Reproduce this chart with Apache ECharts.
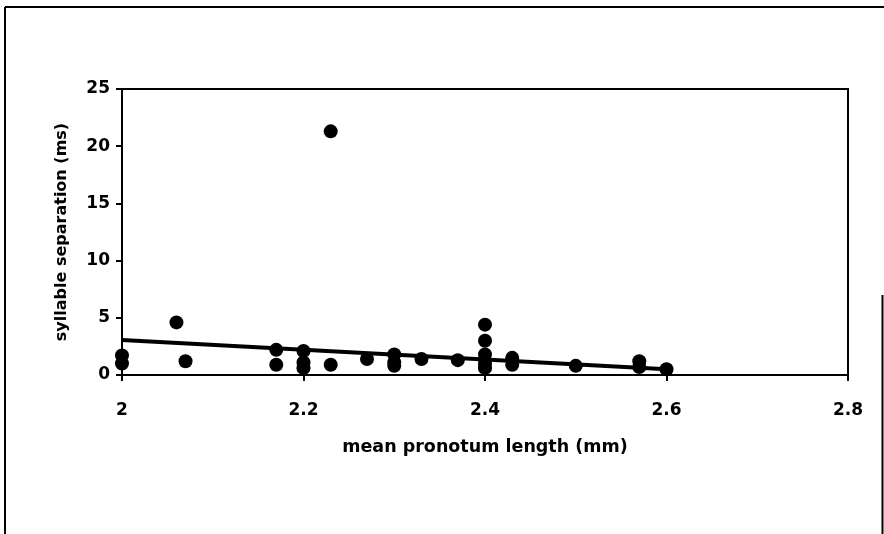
<!DOCTYPE html>
<html>
<head>
<meta charset="utf-8">
<script src="https://cdn.jsdelivr.net/npm/echarts@6/dist/echarts.min.js"></script>
<style>html,body{margin:0;padding:0;background:#fff;}#c{width:884px;height:534px;}</style>
</head>
<body>
<div id="c"></div>
<script>
// pronotum length (mm)
var pronotumLength = [2.00, 2.00, 2.06, 2.07, 2.17, 2.17, 2.20, 2.20, 2.20, 2.23, 2.23, 2.27, 2.30, 2.30, 2.30, 2.33, 2.37, 2.40, 2.40, 2.40, 2.40, 2.40, 2.43, 2.43, 2.50, 2.57, 2.57, 2.60];
// syllable separation (ms)
var syllableSeparation = [1.7, 1.0, 4.6, 1.2, 2.2, 0.9, 2.1, 1.1, 0.6, 21.3, 0.9, 1.4, 1.8, 1.1, 0.8, 1.4, 1.3, 4.4, 3.0, 1.8, 1.0, 0.6, 1.5, 0.9, 0.8, 1.2, 0.7, 0.5];
// trend line endpoints
var trendX = [2.0, 2.6];
var trendY = [3.05, 0.5];
var xTicks = {min: 2, max: 2.8, interval: 0.2};
var yTicks = {min: 0, max: 25, interval: 5};

var points = pronotumLength.map(function (x, i) { return [x, syllableSeparation[i]]; });
var trend = trendX.map(function (x, i) { return [x, trendY[i]]; });

var font = 'DejaVu Sans, Liberation Sans, Arial, sans-serif';
var chart = echarts.init(document.getElementById('c'));
chart.setOption({
  animation: false,
  backgroundColor: '#fff',
  grid: {left: 122, right: 36, top: 89, bottom: 159, show: true, borderColor: '#000', borderWidth: 2, backgroundColor: 'transparent'},
  xAxis: {
    type: 'value', min: xTicks.min, max: xTicks.max, interval: xTicks.interval,
    name: 'mean pronotum length (mm)', nameLocation: 'middle', nameGap: 63,
    nameTextStyle: {color: '#000', fontFamily: font, fontWeight: 'bold', fontSize: 17.5},
    axisLine: {lineStyle: {color: '#000', width: 2}},
    axisTick: {show: true, length: 6, lineStyle: {color: '#000', width: 2}},
    axisLabel: {margin: 27, color: '#000', fontFamily: font, fontWeight: 'bold', fontSize: 17,
      formatter: function (v) { return String(+v.toFixed(1)); }},
    splitLine: {show: false}
  },
  yAxis: {
    type: 'value', min: yTicks.min, max: yTicks.max, interval: yTicks.interval,
    name: 'syllable separation (ms)', nameLocation: 'middle', nameGap: 52,
    nameTextStyle: {color: '#000', fontFamily: font, fontWeight: 'bold', fontSize: 16},
    axisLine: {lineStyle: {color: '#000', width: 2}},
    axisTick: {show: true, length: 6, lineStyle: {color: '#000', width: 2}},
    axisLabel: {margin: 12, color: '#000', fontFamily: font, fontWeight: 'bold', fontSize: 17},
    splitLine: {show: false}
  },
  series: [
    {type: 'line', data: trend, showSymbol: false, symbol: 'none', lineStyle: {color: '#000', width: 4}, z: 3},
    {type: 'scatter', data: points, symbol: 'circle', symbolSize: 14, itemStyle: {color: '#000', opacity: 1}, z: 4}
  ],
  graphic: [
    {type: 'line', shape: {x1: 5, y1: 7, x2: 5, y2: 534}, style: {stroke: '#000', lineWidth: 2}},
    {type: 'line', shape: {x1: 5, y1: 7, x2: 884, y2: 7}, style: {stroke: '#000', lineWidth: 2}},
    {type: 'line', shape: {x1: 882.5, y1: 295, x2: 882.5, y2: 534}, style: {stroke: '#000', lineWidth: 2}}
  ]
});
</script>
</body>
</html>
